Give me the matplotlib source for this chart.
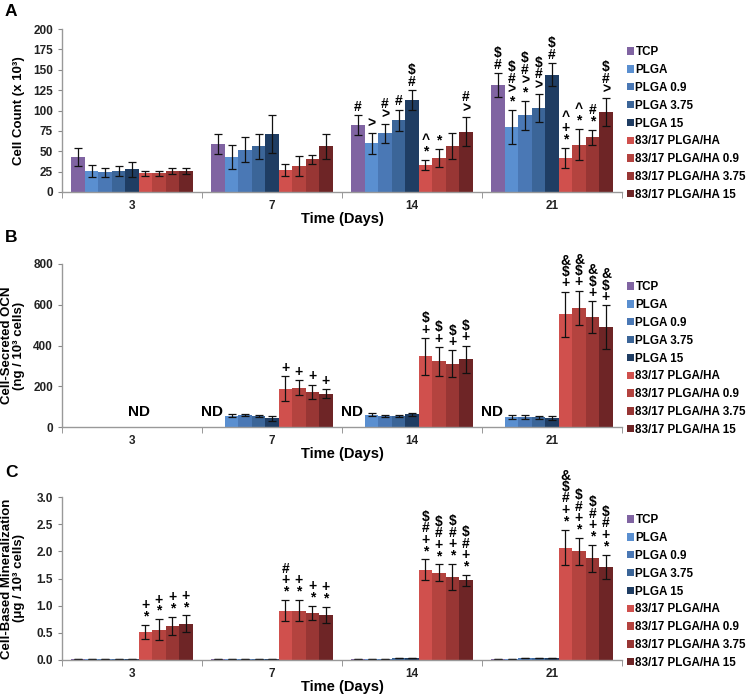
import numpy as np
import matplotlib
matplotlib.use('Agg')
import matplotlib.pyplot as plt

plt.rcParams['font.family'] = ['Liberation Sans', 'DejaVu Sans']
plt.rcParams['font.weight'] = 'bold'

# grupos y series
days = ['3', '7', '14', '21']
series = ['TCP', 'PLGA', 'PLGA 0.9', 'PLGA 3.75', 'PLGA 15',
          '83/17 PLGA/HA', '83/17 PLGA/HA 0.9', '83/17 PLGA/HA 3.75', '83/17 PLGA/HA 15']
colors = ['#8064A2', '#5A8FD0', '#4A78B5', '#3B6598', '#1F3D63',
          '#D0504D', '#B4433F', '#983634', '#6E2526']

# A: conteo celular (x 10^3), filas = dias, columnas = series
count_mean = [
    [43, 26, 24, 26, 28, 23, 23, 26, 26],
    [59, 43, 52, 56, 71, 27, 32, 40, 56],
    [82, 60, 72, 88, 113, 33, 42, 56, 74],
    [131, 80, 94, 103, 144, 42, 58, 67, 98],
]
count_err = [
    [11, 7, 6, 6, 9, 3, 3, 4, 4],
    [12, 15, 15, 15, 23, 7, 12, 6, 15],
    [12, 13, 12, 13, 12, 6, 11, 16, 18],
    [15, 21, 18, 17, 14, 12, 19, 9, 17],
]
count_ann = [
    ['', '', '', '', '', '', '', '', ''],
    ['', '', '', '', '', '', '', '', ''],
    ['#', '>', '>#', '#', '#$', '*^', '*', '', '>#'],
    ['#$', '*>#$', '*>#$', '>#$', '#$', '*+^', '*^', '*#', '>#$'],
]

# B: OCN secretado (ng / 10^3 celulas), nan = ND
nan = np.nan
ocn_mean = [
    [nan, nan, nan, nan, nan, nan, nan, nan, nan],
    [nan, 56, 59, 54, 43, 188, 193, 172, 163],
    [nan, 60, 55, 55, 62, 347, 322, 311, 333],
    [nan, 50, 50, 47, 45, 554, 584, 538, 489],
]
ocn_err = [
    [nan, nan, nan, nan, nan, nan, nan, nan, nan],
    [nan, 6, 5, 5, 12, 62, 37, 35, 22],
    [nan, 8, 6, 6, 8, 90, 70, 65, 67],
    [nan, 10, 9, 8, 10, 110, 85, 78, 108],
]
ocn_ann = [
    ['', '', '', '', '', '', '', '', ''],
    ['', '', '', '', '', '+', '+', '+', '+'],
    ['', '', '', '', '', '+$', '+$', '+$', '+$'],
    ['', '', '', '', '', '+$&', '+$&', '+$&', '+$&'],
]
nd_labels = [(0, 0.05), (1, -0.43), (2, -0.43), (3, -0.43)]

# C: mineralizacion (ug / 10^3 celulas)
min_mean = [
    [0.01, 0.01, 0.01, 0.01, 0.01, 0.51, 0.56, 0.63, 0.67],
    [0.01, 0.01, 0.01, 0.01, 0.01, 0.91, 0.91, 0.87, 0.83],
    [0.01, 0.02, 0.02, 0.03, 0.03, 1.66, 1.61, 1.53, 1.47],
    [0.01, 0.02, 0.03, 0.03, 0.03, 2.07, 2.00, 1.87, 1.72],
]
min_err = [
    [0, 0, 0, 0, 0, 0.13, 0.19, 0.17, 0.15],
    [0, 0, 0, 0, 0, 0.20, 0.19, 0.13, 0.15],
    [0, 0, 0, 0, 0, 0.19, 0.15, 0.24, 0.10],
    [0, 0, 0, 0, 0, 0.33, 0.25, 0.25, 0.22],
]
min_ann = [
    ['', '', '', '', '', '*+', '*+', '*+', '*+'],
    ['', '', '', '', '', '*+#', '*+', '*+', '*+'],
    ['', '', '', '', '', '*+#$', '*+#$', '*+#$', '*+#$'],
    ['', '', '', '', '', '*+#$&', '*+#$', '*+#$', '*+#$'],
]

W, H = 748, 695
fig = plt.figure(figsize=(W / 100, H / 100), dpi=100)

bar_w = 0.0964
x = np.arange(len(days))


def panel(rect, mean, err, ann, ylim, yticks, ytick_fmt, ylabel, letter, letter_px, nd=None):
    ax = fig.add_axes(rect)
    mean = np.array(mean, dtype=float)
    err = np.array(err, dtype=float)
    bars = []
    for j in range(len(series)):
        pos = x + (j - 4) * bar_w
        b = ax.bar(pos, mean[:, j], width=bar_w, color=colors[j], label=series[j],
                   yerr=err[:, j], capsize=3,
                   error_kw=dict(ecolor='#111111', elinewidth=0.9, capthick=0.9))
        bars.append(b)
        for i in range(len(days)):
            s = ann[i][j]
            if s and not np.isnan(mean[i, j]):
                top = mean[i, j] + err[i, j]
                ax.annotate('\n'.join(reversed(list(s))), xy=(pos[i], top),
                            xytext=(0, 1), textcoords='offset points',
                            ha='center', va='bottom', fontsize=10,
                            fontweight='bold', linespacing=0.76)
    if nd:
        for g, off in nd:
            ax.annotate('ND', xy=(g + off, 0), xytext=(0, 6), textcoords='offset points',
                        ha='center', va='bottom', fontsize=11, fontweight='bold')
    ax.set_xlim(-0.5, len(days) - 0.5)
    ax.set_ylim(*ylim)
    ax.set_yticks(yticks)
    ax.set_yticklabels([ytick_fmt.format(t) for t in yticks])
    ax.set_xticks(x)
    ax.set_xticklabels(days)
    ax.set_xticks(np.arange(-0.5, len(days)), minor=True)
    ax.tick_params(axis='x', which='major', length=0, pad=6, labelsize=8.5, labelcolor='#222222')
    ax.tick_params(axis='x', which='minor', length=4, color='#888888', direction='out')
    ax.tick_params(axis='y', length=3, color='#888888', labelsize=8.5, labelcolor='#222222')
    for lab in ax.get_xticklabels() + ax.get_yticklabels():
        lab.set_fontweight('bold')
    for sp in ['top', 'right']:
        ax.spines[sp].set_visible(False)
    for sp in ['left', 'bottom']:
        ax.spines[sp].set_color('#999999')
        ax.spines[sp].set_linewidth(1.0)
    ax.set_xlabel('Time (Days)', fontsize=10.5, fontweight='bold')
    ax.xaxis.set_label_coords(0.5, -0.12)
    ax.set_ylabel(ylabel, fontsize=9.5, fontweight='bold', linespacing=1.0)
    ax.yaxis.set_label_coords(-0.066, 0.5)
    ax.legend(handles=bars, loc='center left', bbox_to_anchor=(1.0, 0.42),
              frameon=False, handlelength=0.6, handleheight=0.6, handletextpad=0.15,
              labelspacing=0.5, borderpad=0, borderaxespad=0.4,
              prop=dict(weight='bold', size=8.4))
    fig.text(5 / W, 1 - letter_px / H, letter, fontsize=12.5, fontweight='bold',
             ha='left', va='baseline')
    return ax


def r(top_px, bottom_px, left_px=62, right_px=622):
    return [left_px / W, 1 - bottom_px / H, (right_px - left_px) / W, (bottom_px - top_px) / H]


panel(r(29, 192), count_mean, count_err, count_ann, (0, 200), np.arange(0, 201, 25),
      '{:.0f}', 'Cell Count (x 10³)', 'A', 16)
panel(r(264, 427), ocn_mean, ocn_err, ocn_ann, (0, 800), np.arange(0, 801, 200),
      '{:.0f}', 'Cell-Secreted OCN\n(ng / 10³ cells)', 'B', 242, nd=nd_labels)
panel(r(497, 660), min_mean, min_err, min_ann, (0, 3.0), np.arange(0, 3.01, 0.5),
      '{:.1f}', 'Cell-Based Mineralization\n(μg / 10³ cells)', 'C', 477)

fig.savefig('out.png', dpi=100)
